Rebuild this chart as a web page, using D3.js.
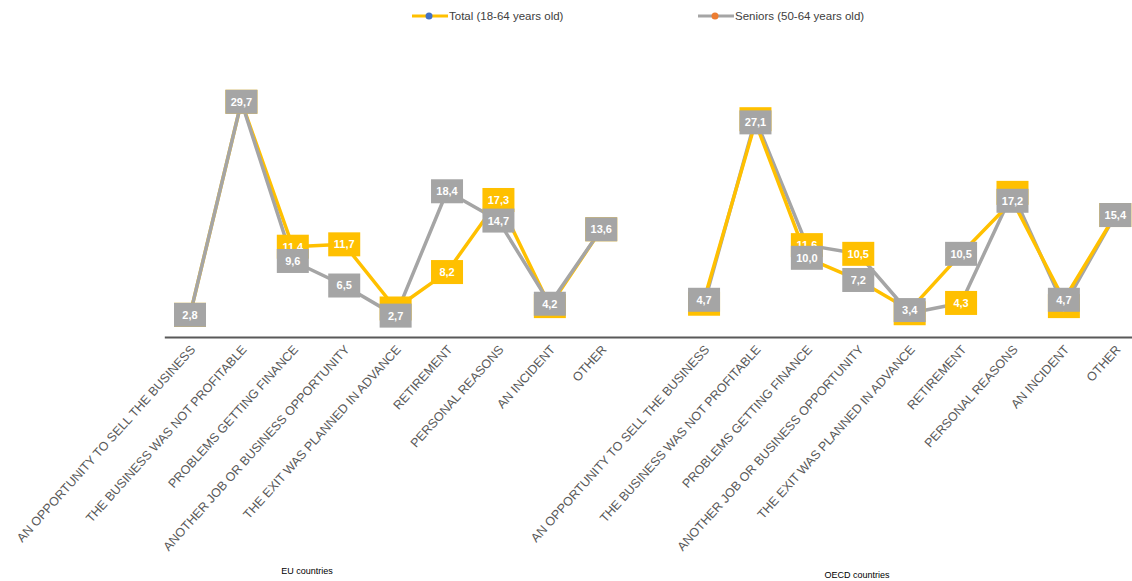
<!DOCTYPE html>
<html>
<head>
<meta charset="utf-8">
<script src="https://cdn.jsdelivr.net/npm/d3@7"></script>
<style>
  html, body { margin: 0; padding: 0; background: #fff; }
  svg { display: block; }
</style>
</head>
<body>
<svg id="chart" width="1132" height="581"></svg>
<script>
// ---- data ----
const categories = [
  "AN OPPORTUNITY TO SELL THE BUSINESS",
  "THE BUSINESS WAS NOT PROFITABLE",
  "PROBLEMS GETTING FINANCE",
  "ANOTHER JOB OR BUSINESS OPPORTUNITY",
  "THE EXIT WAS PLANNED IN ADVANCE",
  "RETIREMENT",
  "PERSONAL REASONS",
  "AN INCIDENT",
  "OTHER"
];
const groups = ["EU countries", "OECD countries"];
const seriesNames = ["Total (18-64 years old)", "Seniors (50-64 years old)"];
const euTotal   = [2.8, 29.7, 11.4, 11.7, 3.6, 8.2, 17.3, 3.9, 13.6];
const euSeniors = [2.8, 29.7, 9.6, 6.5, 2.7, 18.4, 14.7, 4.2, 13.6];
const oecdTotal   = [4.2, 27.5, 11.6, 10.5, 3.0, 4.3, 18.2, 3.9, 15.4];
const oecdSeniors = [4.7, 27.1, 10.0, 7.2, 3.4, 10.5, 17.2, 4.7, 15.4];

// ---- style ----
const YELLOW = "#FFC000", GREY = "#A5A5A5", BLUE = "#4472C4", ORANGE = "#ED7D31";
const seriesBox = [YELLOW, GREY];
const seriesMarker = [BLUE, ORANGE];
// line colours as drawn in each panel (the OECD panel has them swapped)
const panelLine = [[YELLOW, GREY], [GREY, YELLOW]];

const svg = d3.select("#chart");
const fmt = v => d3.format(".1f")(v).replace(".", ",");

// slots: 9 EU, 1 gap, 9 OECD
const slots = [];
categories.forEach(c => slots.push("EU|" + c));
slots.push("gap");
categories.forEach(c => slots.push("OECD|" + c));

const x = d3.scaleBand().domain(slots).range([164.3, 1141]).paddingInner(0).paddingOuter(0);
const y = d3.scaleLinear().domain([0, 30]).range([337, 99.4]);
const cx = k => x(k) + x.bandwidth() / 2;

const panels = [
  { prefix: "EU|", data: [euTotal, euSeniors] },
  { prefix: "OECD|", data: [oecdTotal, oecdSeniors] }
];

// axis
const axis = d3.axisBottom(x).tickSize(0).tickSizeOuter(0)
  .tickFormat(k => k === "gap" ? "" : k.split("|")[1]);
const gAxis = svg.append("g").attr("transform", "translate(0,337)").call(axis);
gAxis.select(".domain").attr("stroke", "#595959").attr("stroke-width", 2);
gAxis.selectAll(".tick text")
  .attr("font-family", "'Liberation Sans', Arial, sans-serif")
  .attr("font-size", 12.5)
  .attr("fill", "#595959")
  .attr("text-anchor", "end")
  .attr("dy", 0)
  .attr("y", 0)
  .attr("transform", "translate(6,13) rotate(-48)");

// lines
panels.forEach((p, pi) => {
  p.data.forEach((vals, si) => {
    const line = d3.line().x((d, i) => cx(p.prefix + categories[i])).y(d => y(d));
    svg.append("path").datum(vals)
      .attr("d", line)
      .attr("fill", "none")
      .attr("stroke", panelLine[pi][si])
      .attr("stroke-width", 3.5)
      .attr("stroke-linejoin", "round");
  });
});
// markers
panels.forEach(p => {
  p.data.forEach((vals, si) => {
    svg.append("g").selectAll("circle").data(vals).join("circle")
      .attr("cx", (d, i) => cx(p.prefix + categories[i]))
      .attr("cy", d => y(d) + 6)
      .attr("r", 4)
      .attr("fill", seriesMarker[si]);
  });
});
// labels (total first, seniors on top)
[0, 1].forEach(si => {
  panels.forEach(p => {
    const g = svg.append("g").selectAll("g").data(p.data[si]).join("g")
      .attr("transform", (d, i) => `translate(${cx(p.prefix + categories[i])},${y(d)})`);
    g.append("rect")
      .attr("x", -16).attr("y", -12).attr("width", 32).attr("height", 24)
      .attr("fill", seriesBox[si]);
    g.append("text")
      .attr("text-anchor", "middle").attr("dy", "0.36em")
      .attr("font-family", "'Liberation Sans Narrow', 'Liberation Sans', Arial, sans-serif")
      .attr("font-weight", "bold").attr("font-size", 11)
      .attr("fill", "#fff")
      .text(d => fmt(d));
  });
});

// group titles
const gt = [[307, 574], [857, 578]];
groups.forEach((t, i) => {
  svg.append("text").attr("x", gt[i][0]).attr("y", gt[i][1])
    .attr("text-anchor", "middle")
    .attr("font-family", "'Liberation Sans', Arial, sans-serif")
    .attr("font-size", 9).attr("fill", "#000").text(t);
});

// legend
const leg = [[412, BLUE, YELLOW], [698, ORANGE, GREY]];
seriesNames.forEach((n, i) => {
  const [lx, mc, lc] = leg[i];
  const g = svg.append("g").attr("transform", `translate(${lx},16)`);
  g.append("line").attr("x1", 0).attr("x2", 36).attr("y1", 0).attr("y2", 0)
    .attr("stroke", lc).attr("stroke-width", 3);
  g.append("circle").attr("cx", 17).attr("cy", 0).attr("r", 3.5).attr("fill", mc);
  g.append("text").attr("x", 37).attr("y", 4)
    .attr("font-family", "'Liberation Sans Narrow', 'Liberation Sans', Arial, sans-serif")
    .attr("font-size", 11.5).attr("fill", "#404040").text(n);
});
</script>
</body>
</html>
